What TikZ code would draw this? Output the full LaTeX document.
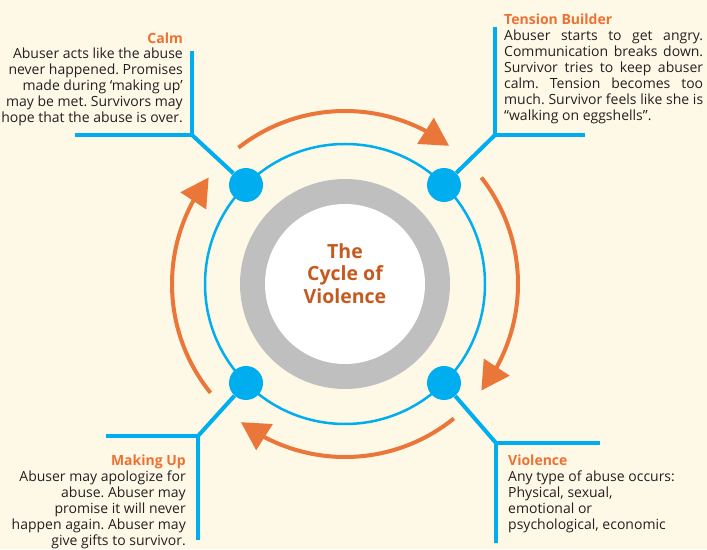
\documentclass[tikz,border=0pt]{standalone}
\usepackage{fontspec}
\setmainfont{Open Sans}
\usetikzlibrary{arrows.meta,bending}
\definecolor{bg}{HTML}{FEF9E7}
\definecolor{cyanb}{HTML}{00AEEF}
\definecolor{orng}{HTML}{EA7639}
\definecolor{headc}{HTML}{EE7033}
\definecolor{ttl}{HTML}{C65A1E}
\definecolor{ringg}{HTML}{BFBFBF}
\definecolor{txt}{HTML}{231F20}
\newlength{\tbw}
\setlength{\tbw}{199pt}
\frenchspacing
\begin{document}
\begin{tikzpicture}[x=1pt,y=1pt,
  dot/.style={circle,fill=cyanb,minimum size=34pt,inner sep=0pt},
  bline/.style={cyanb,line width=4pt},
  cyc/.style={orng,line width=4pt,-{Triangle[length=28pt,width=30pt]}},
  head/.style={text=headc,font=\bfseries\fontsize{14}{16}\selectfont,inner sep=0pt},
  body/.style={text=txt,font=\frenchspacing\fontsize{14}{16}\selectfont,inner sep=0pt},
]
\fill[bg] (0,0) rectangle (707,549);
\useasboundingbox (0,0) rectangle (707,549);
\coordinate (c) at (345,265);
\fill[ringg] (c) circle[radius=105];
\fill[white] (c) circle[radius=80];
\draw[cyanb,line width=2.5pt] (c) circle[radius=140];
\node[text=ttl,font=\bfseries\fontsize{19.5}{22.5}\selectfont,align=center,inner sep=0pt,anchor=north] (title) at (345,306) {The\\Cycle of\\Violence};
% orange cycle arrows
\draw[cyc] ([shift={(128:173)}]c) arc[start angle=128,end angle=53,radius=173];
\draw[cyc] ([shift={(38:173)}]c) arc[start angle=38,end angle=-38,radius=173];
\draw[cyc] ([shift={(-51:173)}]c) arc[start angle=-51,end angle=-127,radius=173];
\draw[cyc] ([shift={(-141:173)}]c) arc[start angle=-141,end angle=-218,radius=173];
% dots
\node[dot] (tl) at ([shift={(135:140)}]c) {};
\node[dot] (tr) at ([shift={(45:140)}]c) {};
\node[dot] (bl) at ([shift={(-135:140)}]c) {};
\node[dot] (br) at ([shift={(-45:140)}]c) {};
% corners
\coordinate (tlk) at (192,414);
\coordinate (tlv) at (192,498);
\coordinate (tlh) at (75,414);
\coordinate (trk) at (495,414);
\coordinate (trv) at (495,522);
\coordinate (trh) at (585,414);
\coordinate (blk) at (198,113);
\coordinate (blv) at (198,9);
\coordinate (blh) at (106,113);
\coordinate (brk) at (496,106);
\coordinate (brv) at (496,6);
\coordinate (brh) at (600,106);
\draw[bline] (tl) -- (tlk);
\draw[bline] (tlv) -- (tlk) -- (tlh);
\draw[bline] (tr) -- (trk);
\draw[bline] (trv) -- (trk) -- (trh);
\draw[bline] (bl) -- (blk);
\draw[bline] (blh) -- (blk) -- (blv);
\draw[bline] (br) -- (brk);
\draw[bline] (brh) -- (brk) -- (brv);
% texts
\node[head,anchor=base east] (calmh) at (183,505) {Calm};
\node[body,anchor=north east,align=right] (calmb) at (183,501) {Abuser acts like the abuse\\never happened. Promises\\made during ‘making up’\\may be met. Survivors may\\hope that the abuse is over.};
\node[head,anchor=base west] (tensh) at (504,524) {Tension Builder};
\node[body,anchor=north west,align=left] (tensb) at (504,519) {\makebox[\tbw][s]{Abuser starts to get angry.}\\\makebox[\tbw][s]{Communication breaks down.}\\\makebox[\tbw][s]{Survivor tries to keep abuser}\\\makebox[\tbw][s]{calm. Tension becomes too}\\\makebox[\tbw][s]{much. Survivor feels like she is}\\“walking on eggshells”.};
\node[head,anchor=base east] (makeh) at (186,83) {Making Up};
\node[body,anchor=north east,align=right] (makeb) at (186,78) {Abuser may apologize for\\abuse. Abuser may\\promise it will never\\happen again. Abuser may\\give gifts to survivor.};
\node[head,anchor=base west] (violh) at (508,83) {Violence};
\node[body,anchor=north west,align=left] (violb) at (508,78) {Any type of abuse occurs:\\Physical, sexual,\\emotional or\\psychological, economic};
\end{tikzpicture}
\end{document}
